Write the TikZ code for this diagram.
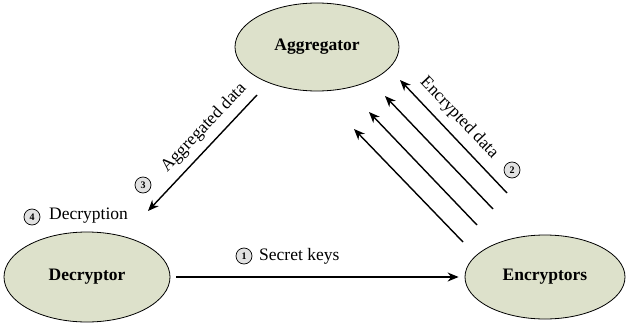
\documentclass[tikz,border=0pt]{standalone}
\usepackage{fontspec}
\setmainfont{Liberation Serif}
\usetikzlibrary{shapes.geometric,arrows.meta}
\definecolor{ellfill}{RGB}{221,225,203}
\definecolor{numfill}{RGB}{225,225,225}
\tikzset{
  entity/.style={ellipse,draw=black,line width=0.8pt,fill=ellfill,inner sep=0pt,
    font=\fontsize{17.5}{20}\selectfont\bfseries},
  flow/.style={line width=1.4pt,-{Stealth[length=11pt,width=9pt]}},
  numc/.style={circle,draw=black,line width=0.7pt,fill=numfill,minimum size=16pt,inner sep=0pt,
    font=\fontsize{10}{10}\selectfont\bfseries},
  lbl/.style={font=\fontsize{17.5}{20}\selectfont,inner sep=0pt}
}
\begin{document}
\begin{tikzpicture}[x=1pt,y=-1pt]
\useasboundingbox (0,0) rectangle (626,329);
\node[entity,minimum width=164pt,minimum height=88pt] (agg) at (317,47) {Aggregator};
\node[entity,minimum width=166pt,minimum height=90pt] (dec) at (87,277) {Decryptor};
\node[entity,minimum width=160pt,minimum height=84pt] (enc) at (545,277) {Encryptors};
% secret keys
\draw[flow,shorten <=6pt,shorten >=6pt] (dec.east) -- (enc.west);
\node[numc] (n1) at (244,256) {1};
\node[lbl,anchor=west] (l1) at (259,256) {Secret keys};
% aggregated data
\coordinate (a1) at (257,95);
\coordinate (a2) at (148,211);
\draw[flow] (a1) -- (a2);
\node[numc] (n3) at (143,185) {3};
\node[lbl,rotate=46.5] (l3) at (204,128) {Aggregated data};
% decryption
\node[numc] (n4) at (32,217) {4};
\node[lbl,anchor=west] (l4) at (49,216) {Decryption};
% encrypted data
\coordinate (e1s) at (507,193); \coordinate (e1t) at (400,80);
\coordinate (e2s) at (493,209); \coordinate (e2t) at (385,96);
\coordinate (e3s) at (477,225); \coordinate (e3t) at (369,112);
\coordinate (e4s) at (463,242); \coordinate (e4t) at (354,129);
\draw[flow] (e1s) -- (e1t);
\draw[flow] (e2s) -- (e2t);
\draw[flow] (e3s) -- (e3t);
\draw[flow] (e4s) -- (e4t);
\node[lbl,rotate=-46.5] (l2) at (459,118) {Encrypted data};
\node[numc] (n2) at (512,170) {2};
\end{tikzpicture}
\end{document}
